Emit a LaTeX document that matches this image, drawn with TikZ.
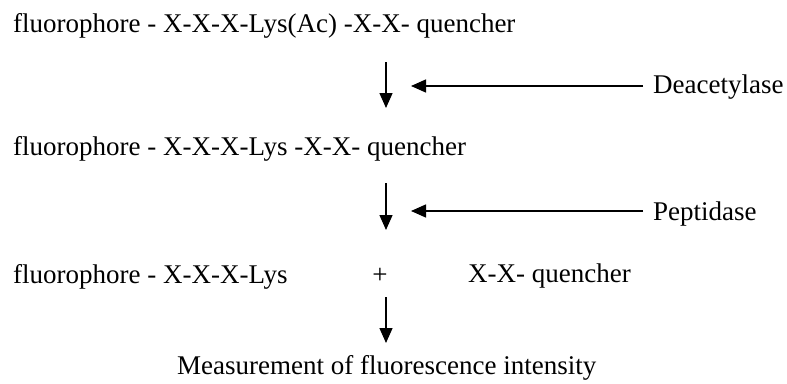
\documentclass[tikz,border=0pt]{standalone}
\usepackage{fontspec}
\setmainfont{Liberation Serif}
\usetikzlibrary{arrows.meta}
\begin{document}
\begin{tikzpicture}[x=1pt,y=-1pt,
  txt/.style={anchor=base west,inner sep=0pt,font=\fontsize{27}{31}\selectfont},
  arr/.style={line width=1.4pt,-{Triangle[length=15pt,width=13pt]}}]
\useasboundingbox (0,0) rectangle (787,383);
\node[txt] (l1) at (13,32) {fluorophore - X-X-X-Lys(Ac) -X-X- quencher};
\node[txt] (l2) at (13,155) {fluorophore - X-X-X-Lys -X-X- quencher};
\node[txt] (l3a) at (13,283) {fluorophore - X-X-X-Lys};
\node[txt,anchor=base] (plus) at (380,283) {+};
\node[txt] (l3b) at (468,282) {X-X- quencher};
\node[txt] (meas) at (177,374) {Measurement of fluorescence intensity};
\node[txt] (dea) at (653,93) {Deacetylase};
\node[txt] (pep) at (653,220) {Peptidase};
\coordinate (v1s) at (386,62);  \coordinate (v1e) at (386,108);
\coordinate (v2s) at (386,183); \coordinate (v2e) at (386,230);
\coordinate (v3s) at (386,297); \coordinate (v3e) at (386,343);
\coordinate (h1s) at (643,86);  \coordinate (h1e) at (411,86);
\coordinate (h2s) at (643,211); \coordinate (h2e) at (411,211);
\draw[arr] (v1s) -- (v1e);
\draw[arr] (v2s) -- (v2e);
\draw[arr] (v3s) -- (v3e);
\draw[arr] (h1s) -- (h1e);
\draw[arr] (h2s) -- (h2e);
\end{tikzpicture}
\end{document}
